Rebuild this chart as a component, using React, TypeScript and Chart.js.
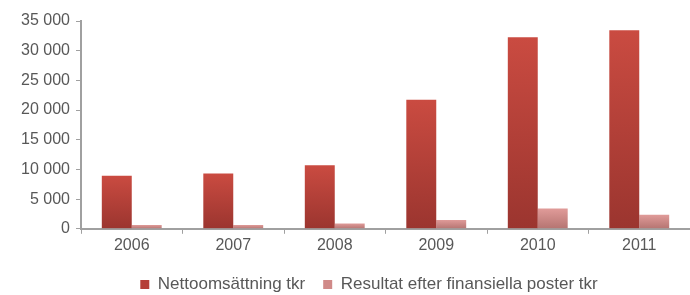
import React, { useEffect, useRef } from "react";
import { Chart, registerables } from "chart.js";

Chart.register(...registerables);

const categories = ["2006", "2007", "2008", "2009", "2010", "2011"];
const nettoomsattning = [8950, 9300, 10700, 21750, 32250, 33450];
const resultat = [650, 650, 900, 1500, 3400, 2350];
const yTicks = [0, 5000, 10000, 15000, 20000, 25000, 30000, 35000];
const seriesNames = ["Nettoomsättning tkr", "Resultat efter finansiella poster tkr"];

const FONT = "'Liberation Sans', Arial, sans-serif";

function gradientFor(top: string, bottom: string, fallback: string) {
  return (ctx: any) => {
    const chart = ctx.chart;
    const y = chart.scales?.y;
    if (!y || !chart.chartArea || ctx.raw == null) return fallback;
    const y0 = y.getPixelForValue(ctx.raw);
    const y1 = y.getPixelForValue(0);
    if (!isFinite(y0) || !isFinite(y1) || y0 === y1) return fallback;
    const g = chart.ctx.createLinearGradient(0, y0, 0, y1);
    g.addColorStop(0, top);
    g.addColorStop(1, bottom);
    return g;
  };
}

const shiftLegend = {
  id: "shiftLegend",
  afterLayout(chart: any) {
    if (chart.legend) {
      chart.legend.left += 48;
      chart.legend.top += 1;
      chart.legend.bottom += 1;
    }
  },
};

export default function App() {
  const ref = useRef<HTMLCanvasElement | null>(null);
  useEffect(() => {
    document.body.style.margin = "0";
    const chart = new Chart(ref.current!, {
      type: "bar",
      plugins: [shiftLegend],
      data: {
        labels: categories,
        datasets: [
          {
            label: seriesNames[0],
            data: nettoomsattning,
            backgroundColor: gradientFor("#ca4b41", "#9b352f", "#b94038"),
            borderWidth: 0,
            categoryPercentage: 0.59,
            barPercentage: 1.0,
          },
          {
            label: seriesNames[1],
            data: resultat,
            backgroundColor: gradientFor("#e09b99", "#b57471", "#cf8a88"),
            borderWidth: 0,
            categoryPercentage: 0.59,
            barPercentage: 1.0,
          },
        ],
      },
      options: {
        animation: false,
        responsive: false,
        maintainAspectRatio: false,
        layout: { padding: { top: 21, right: 0, left: 0, bottom: -7 } },
        plugins: {
          tooltip: { enabled: false },
          legend: {
            position: "bottom",
            labels: {
              boxWidth: 9,
              boxHeight: 9,
              padding: 18,
              color: "#585858",
              font: { family: FONT, size: 17 },
              generateLabels: (chart: any) =>
                chart.data.datasets.map((d: any, i: number) => ({
                  text: d.label,
                  fillStyle: i === 0 ? "#b53f37" : "#d08a88",
                  strokeStyle: "transparent",
                  lineWidth: 0,
                  fontColor: "#585858",
                  datasetIndex: i,
                  hidden: false,
                })),
            },
          },
        },
        scales: {
          x: {
            offset: true,
            grid: {
              offset: true,
              drawOnChartArea: false,
              drawTicks: true,
              tickLength: 5,
              color: "#a0a0a0",
              lineWidth: 1,
            },
            border: { color: "#a0a0a0", width: 2 },
            ticks: {
              color: "#585858",
              font: { family: FONT, size: 16 },
              padding: 2,
              maxRotation: 0,
            },
          },
          y: {
            min: 0,
            max: 35000,
            afterFit: (scale: any) => {
              scale.width = 81;
            },
            afterBuildTicks: (scale: any) => {
              scale.ticks = yTicks.map((v) => ({ value: v }));
            },
            grid: {
              drawOnChartArea: false,
              drawTicks: true,
              tickLength: 5,
              color: "#a0a0a0",
            },
            border: { color: "#a0a0a0", width: 2 },
            ticks: {
              color: "#585858",
              font: { family: FONT, size: 16 },
              padding: 6,
              callback: (v: any) =>
                String(v).replace(/\B(?=(\d{3})+(?!\d))/g, " "),
            },
          },
        },
      },
    });
    return () => chart.destroy();
  }, []);
  return (
    <div style={{ width: 690, height: 295 }}>
      <canvas ref={ref} width={690} height={295} style={{ display: "block" }} />
    </div>
  );
}
